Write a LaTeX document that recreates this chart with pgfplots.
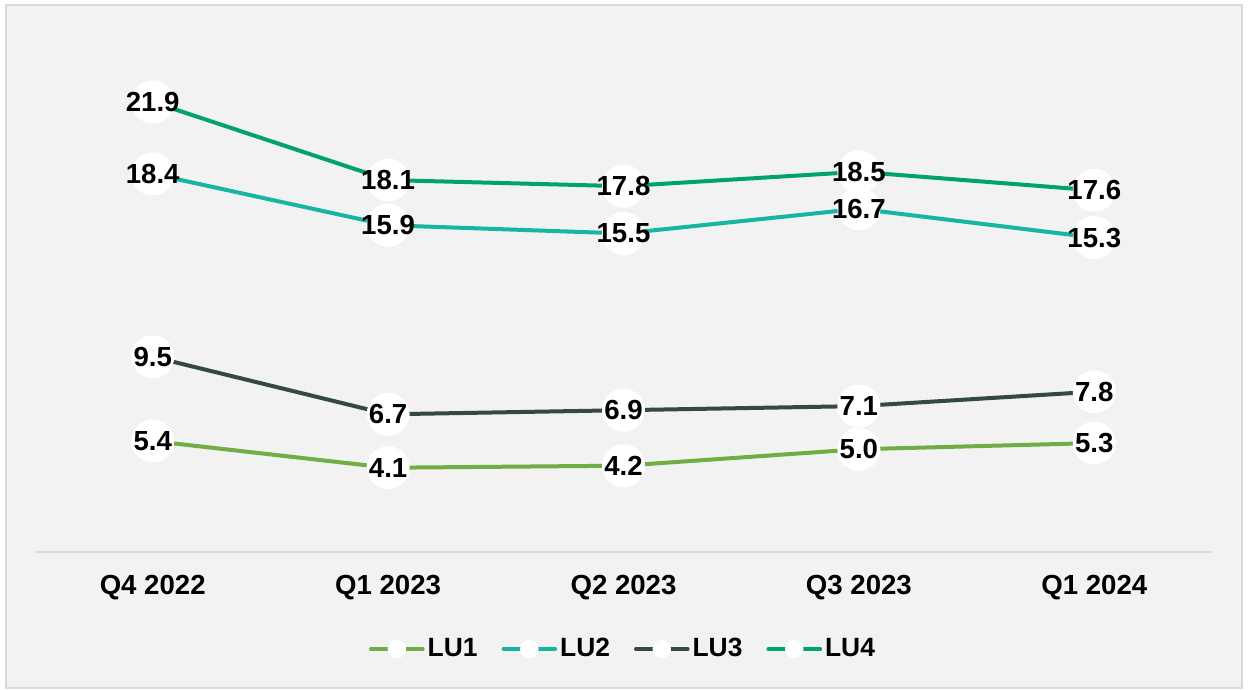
\documentclass[border=0pt]{standalone}
\usepackage{fontspec}
\setmainfont{Liberation Sans}
\usepackage{pgfplots}
\pgfplotsset{compat=1.18}
\definecolor{bgc}{HTML}{F2F2F2}
\definecolor{bdc}{HTML}{D9D9D9}
\definecolor{luA}{HTML}{70AD47}
\definecolor{luB}{HTML}{17B6A0}
\definecolor{luC}{HTML}{354A3F}
\definecolor{luD}{HTML}{00A36C}
\newcommand{\lfont}{\bfseries\fontsize{13.8}{16}\selectfont}
\begin{document}
\begin{tikzpicture}
\path[use as bounding box] (-17.5pt,-69pt) rectangle (609.5pt,276pt);
\fill[white] (-17.5pt,-69pt) rectangle (609.5pt,276pt);
\draw[bdc, fill=bgc, line width=0.6pt] (-14.5pt,-68pt) rectangle (603.5pt,273.5pt);
\begin{axis}[
  at={(0,0)}, anchor=south west,
  scale only axis,
  width=588.5pt, height=246.6pt,
  xmin=-0.5, xmax=4.5, ymin=0, ymax=24,
  clip=false,
  axis x line*=bottom,
  axis y line=none,
  x axis line style={bdc, line width=0.8pt},
  xtick={0,1,2,3,4},
  xticklabels={Q4 2022,Q1 2023,Q2 2023,Q3 2023,Q1 2024},
  major tick length=0pt,
  xticklabel style={anchor=center, yshift=-18pt, font=\lfont},
  ytick=\empty,
  lu/.style={line width=2pt, mark=*, mark size=10.5pt, mark options={fill=white, draw=white, line width=0.5pt}},
  nodes near coords={\pgfmathprintnumber[fixed,fixed zerofill,precision=1,assume math mode=true]{\pgfplotspointmeta}},
  nodes near coords align={center},
  every node near coord/.append style={anchor=center, font=\lfont, text=black, inner sep=0pt},
  legend columns=4,
  legend style={at={(0.5,0)}, anchor=center, yshift=-48.5pt, draw=none, fill=none,
    font=\bfseries\fontsize{13.2}{15}\selectfont,
    /tikz/every even column/.append style={column sep=10.5pt},
    nodes={inner sep=1.5pt}},
  legend image code/.code={
    \draw[#1, mark=none, line width=1.8pt, line cap=round] (0pt,0pt) -- (26pt,0pt);
    \fill[white] (13pt,0pt) circle (3.6pt);
  },
]
\addplot[luA, lu] coordinates {(0,5.4) (1,4.1) (2,4.2) (3,5.0) (4,5.3)};
\addlegendentry{LU1}
\addplot[luB, lu] coordinates {(0,18.4) (1,15.9) (2,15.5) (3,16.7) (4,15.3)};
\addlegendentry{LU2}
\addplot[luC, lu] coordinates {(0,9.5) (1,6.7) (2,6.9) (3,7.1) (4,7.8)};
\addlegendentry{LU3}
\addplot[luD, lu] coordinates {(0,21.9) (1,18.1) (2,17.8) (3,18.5) (4,17.6)};
\addlegendentry{LU4}
\end{axis}
\end{tikzpicture}
\end{document}
